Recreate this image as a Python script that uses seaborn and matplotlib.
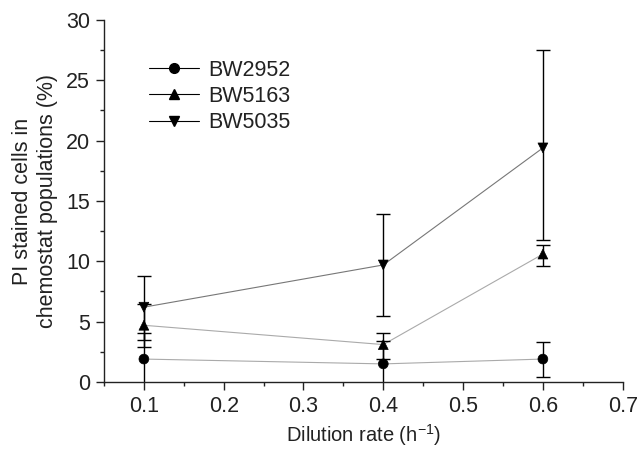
import pandas as pd
import matplotlib
matplotlib.use("Agg")
import matplotlib.pyplot as plt
from matplotlib.lines import Line2D
from matplotlib.ticker import MultipleLocator
import seaborn as sns

# Data
dilution = [0.1, 0.4, 0.6]
strains = ["BW2952", "BW5163", "BW5035"]

bw2952 = [1.9, 1.5, 1.9]
bw2952_up = [2.2, 1.9, 1.4]
bw2952_lo = [2.2, 1.9, 1.45]

bw5163 = [4.7, 3.1, 10.6]
bw5163_up = [1.8, 1.0, 0.75]
bw5163_lo = [1.8, 1.2, 1.0]

bw5035 = [6.2, 9.7, 19.4]
bw5035_up = [2.6, 4.2, 8.1]
bw5035_lo = [2.7, 4.2, 7.6]

values = {"BW2952": bw2952, "BW5163": bw5163, "BW5035": bw5035}
err_up = {"BW2952": bw2952_up, "BW5163": bw5163_up, "BW5035": bw5035_up}
err_lo = {"BW2952": bw2952_lo, "BW5163": bw5163_lo, "BW5035": bw5035_lo}
markers = {"BW2952": "o", "BW5163": "^", "BW5035": "v"}
line_cols = {"BW2952": "#aaaaaa", "BW5163": "#aaaaaa", "BW5035": "#777777"}

rows = []
for s in strains:
    for x, y in zip(dilution, values[s]):
        rows.append({"Dilution": x, "PI": y, "Strain": s})
data = pd.DataFrame(rows)

sns.set_theme(style="ticks")
plt.rcParams['font.family'] = ['Liberation Sans', 'DejaVu Sans']
plt.rcParams['mathtext.fontset'] = 'custom'
plt.rcParams['mathtext.rm'] = 'Liberation Sans'
plt.rcParams['mathtext.it'] = 'Liberation Sans:italic'

fs = 15.5
txt = '#222222'

fig = plt.figure(figsize=(6.38, 4.54), dpi=100)
ax = fig.add_axes([0.163, 0.1586, 0.813, 0.7974])

# grey connecting lines
for s in strains:
    sns.lineplot(x="Dilution", y="PI", data=data[data["Strain"] == s],
                 color=line_cols[s], linewidth=0.8, ax=ax, legend=False, zorder=1)

# error bars
for s in strains:
    ax.errorbar(dilution, values[s], yerr=[err_lo[s], err_up[s]], fmt='none',
                ecolor='black', elinewidth=1.0, capsize=5, capthick=1.0, zorder=2)

# black markers
sns.scatterplot(x="Dilution", y="PI", style="Strain", data=data, markers=markers,
                color="black", s=50, edgecolor="black", linewidth=0.5,
                legend=False, ax=ax, zorder=3)

ax.set_xlim(0.05, 0.7)
ax.set_ylim(0, 30)
ax.xaxis.set_minor_locator(MultipleLocator(0.05))
ax.yaxis.set_major_locator(MultipleLocator(5))
ax.yaxis.set_minor_locator(MultipleLocator(2.5))
ax.set_xticks([0.1, 0.2, 0.3, 0.4, 0.5, 0.6, 0.7])
ax.set_xticklabels(["0.1", "0.2", "0.3", "0.4", "0.5", "0.6", "0.7"])
ax.tick_params(which='major', direction='out', length=6, width=1, labelsize=fs,
               color=txt, labelcolor=txt, pad=4)
ax.tick_params(which='minor', direction='out', length=3, width=1, color=txt)
for sp in ['left', 'bottom']:
    ax.spines[sp].set_linewidth(1.0)
    ax.spines[sp].set_color(txt)
sns.despine(ax=ax)

ax.set_xlabel('Dilution rate (h$^{-1}$)', fontsize=14.5, color=txt, labelpad=4)
ax.set_ylabel('PI stained cells in\nchemostat populations (%)', fontsize=fs,
              color=txt, labelpad=6)

handles = [Line2D([0], [0], color='black', linewidth=0.8, marker=markers[s],
                  markersize=7, markerfacecolor='black', markeredgecolor='black')
           for s in strains]
ax.legend(handles, strains, loc='upper left', bbox_to_anchor=(0.05, 0.944),
          frameon=False, fontsize=fs, handlelength=2.3, handletextpad=0.45,
          labelspacing=0.25, labelcolor=txt)

fig.savefig("out.png", dpi=100)
